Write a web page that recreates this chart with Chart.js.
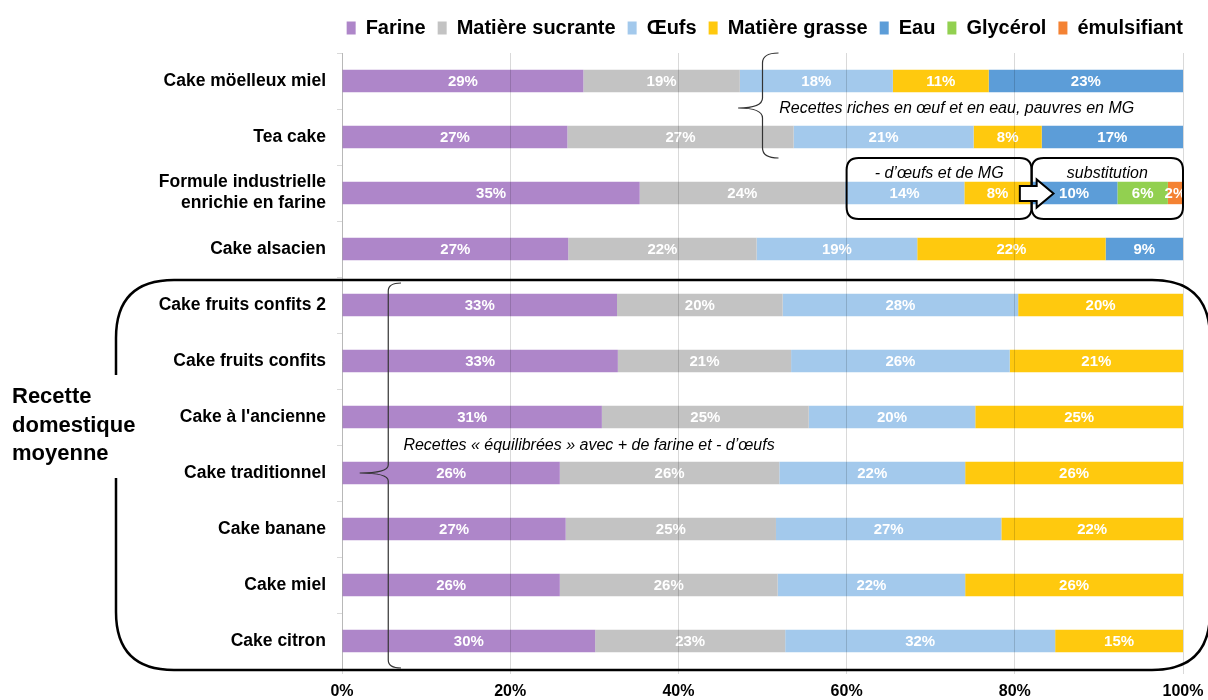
<!DOCTYPE html>
<html>
<head>
<meta charset="utf-8">
<script src="https://cdn.jsdelivr.net/npm/chart.js@4"></script>
<style>
  html, body { margin: 0; padding: 0; background: #fff; }
  #wrap { width: 1208px; height: 700px; }
</style>
</head>
<body>
<div id="wrap"><canvas id="cakeChart"></canvas></div>
<script>
const categories = [
  'Cake möelleux miel',
  'Tea cake',
  ['Formule industrielle', 'enrichie en farine'],
  'Cake alsacien',
  'Cake fruits confits 2',
  'Cake fruits confits',
  "Cake à l'ancienne",
  'Cake traditionnel',
  'Cake banane',
  'Cake miel',
  'Cake citron'
];

const farine        = [28.7, 26.8, 35.4, 26.9, 32.7, 32.8, 30.9, 25.9, 26.6, 25.9, 30.1];
const matSucrante   = [18.6, 26.9, 24.4, 22.4, 19.7, 20.6, 24.6, 26.1, 25.0, 25.9, 22.6];
const oeufs         = [18.2, 21.4, 14.2, 19.1, 28.0, 26.0, 19.8, 22.1, 26.8, 22.3, 32.1];
const matGrasse     = [11.4,  8.1,  7.9, 22.4, 19.6, 20.6, 24.7, 25.9, 21.6, 25.9, 15.2];
const eau           = [23.1, 16.8, 10.3,  9.2, null, null, null, null, null, null, null];
const glycerol      = [null, null,  6.0, null, null, null, null, null, null, null, null];
const emulsifiant   = [null, null,  1.8, null, null, null, null, null, null, null, null];

const xTicks = [0, 20, 40, 60, 80, 100];

const FONT = "'Liberation Sans', Arial, sans-serif";

// fixed legend height, and legend pushed to the right edge of the plot
const legendFit = {
  id: 'legendFit',
  beforeInit(chart) {
    const fit = chart.legend.fit;
    chart.legend.fit = function () {
      fit.bind(chart.legend)();
      this.height = 47;
    };
  },
  beforeDraw(chart) {
    chart.legend.left += 12;
    chart.legend.right += 12;
  },
  afterDraw(chart) {
    chart.legend.left -= 12;
    chart.legend.right -= 12;
  }
};

// white percentage labels in the middle of each segment
const segmentLabels = {
  id: 'segmentLabels',
  afterDatasetsDraw(chart) {
    const ctx = chart.ctx;
    ctx.save();
    ctx.font = 'bold 15px ' + FONT;
    ctx.fillStyle = '#fff';
    ctx.textAlign = 'center';
    ctx.textBaseline = 'middle';
    chart.data.datasets.forEach((ds, i) => {
      chart.getDatasetMeta(i).data.forEach((bar, j) => {
        const v = ds.data[j];
        if (v == null) return;
        ctx.fillText(Math.round(v) + '%', (bar.x + bar.base) / 2, bar.y + 1);
      });
    });
    ctx.restore();
  }
};

function roundRect(ctx, x0, y0, x1, y1, r) {
  ctx.beginPath();
  ctx.moveTo(x0 + r, y0);
  ctx.lineTo(x1 - r, y0);
  ctx.quadraticCurveTo(x1, y0, x1, y0 + r);
  ctx.lineTo(x1, y1 - r);
  ctx.quadraticCurveTo(x1, y1, x1 - r, y1);
  ctx.lineTo(x0 + r, y1);
  ctx.quadraticCurveTo(x0, y1, x0, y1 - r);
  ctx.lineTo(x0, y0 + r);
  ctx.quadraticCurveTo(x0, y0, x0 + r, y0);
  ctx.closePath();
}

// curly brace opening to the right, tip pointing left
function brace(ctx, x, top, bottom, tipY, tipX, c) {
  ctx.beginPath();
  ctx.moveTo(x + c * 1.6, top);
  ctx.quadraticCurveTo(x, top, x, top + c);
  ctx.lineTo(x, tipY - c);
  ctx.quadraticCurveTo(x, tipY, tipX, tipY);
  ctx.quadraticCurveTo(x, tipY, x, tipY + c);
  ctx.lineTo(x, bottom - c);
  ctx.quadraticCurveTo(x, bottom, x + c * 1.6, bottom);
  ctx.stroke();
}

const annotations = {
  id: 'annotations',
  afterDraw(chart) {
    const ctx = chart.ctx;
    const xs = chart.scales.x, ys = chart.scales.y;
    const px = v => xs.getPixelForValue(v);
    const py = i => ys.getPixelForValue(i);
    ctx.save();

    // group 1: eggs & water rich recipes
    ctx.strokeStyle = '#333';
    ctx.lineWidth = 1.2;
    brace(ctx, px(50), py(0) - 28, py(1) + 21, py(0.5) - 1, px(47.1), 10);
    ctx.fillStyle = '#000';
    ctx.font = 'italic 16px ' + FONT;
    ctx.textAlign = 'left';
    ctx.textBaseline = 'alphabetic';
    ctx.fillText('Recettes riches en œuf et en eau, pauvres en MG', px(52), py(0.5) + 4);

    // industrial formula boxes
    ctx.strokeStyle = '#000';
    ctx.lineWidth = 2;
    roundRect(ctx, px(60), py(2) - 35, px(82), py(2) + 26, 12);
    ctx.stroke();
    roundRect(ctx, px(82), py(2) - 35, px(100), py(2) + 26, 12);
    ctx.stroke();
    ctx.textAlign = 'center';
    ctx.fillText('- d’œufs et de MG', px(71), py(2) - 15);
    ctx.fillText('substitution', px(91), py(2) - 15);

    // block arrow
    const ay = py(2) + 0.5, a0 = px(80.6), a1 = px(82.6), a2 = px(84.6);
    ctx.beginPath();
    ctx.moveTo(a0, ay - 7.5);
    ctx.lineTo(a1, ay - 7.5);
    ctx.lineTo(a1, ay - 14);
    ctx.lineTo(a2, ay);
    ctx.lineTo(a1, ay + 14);
    ctx.lineTo(a1, ay + 7.5);
    ctx.lineTo(a0, ay + 7.5);
    ctx.closePath();
    ctx.fillStyle = '#fff';
    ctx.fill();
    ctx.stroke();

    // domestic recipes frame
    ctx.lineWidth = 2.5;
    roundRect(ctx, 116, py(3.5) + 3, 1210, py(10.5) + 1, 58);
    ctx.stroke();
    ctx.fillStyle = '#fff';
    ctx.fillRect(100, py(7) - 98, 40, 103);
    ctx.fillStyle = '#000';
    ctx.font = 'bold 22px ' + FONT;
    ctx.textAlign = 'left';
    ctx.fillText('Recette', 12, py(7) - 70);
    ctx.fillText('domestique', 12, py(7) - 41);
    ctx.fillText('moyenne', 12, py(7) - 13);

    // group 2: balanced recipes
    ctx.strokeStyle = '#333';
    ctx.lineWidth = 1.2;
    brace(ctx, px(5.5), py(3.5) + 6, py(10.5) - 1, py(7), px(2.1), 8);
    ctx.fillStyle = '#000';
    ctx.font = 'italic 16px ' + FONT;
    ctx.fillText('Recettes « équilibrées » avec + de farine et - d’œufs', px(7.3), py(6.5) + 5);

    ctx.restore();
  }
};

function ds(label, data, color) {
  return { label, data, backgroundColor: color, borderWidth: 0, stack: 'mix' };
}

new Chart(document.getElementById('cakeChart'), {
  type: 'bar',
  data: {
    labels: categories,
    datasets: [
      ds('Farine', farine, '#AE86C9'),
      ds('Matière sucrante', matSucrante, '#C3C3C3'),
      ds('Œufs', oeufs, '#A3C9EC'),
      ds('Matière grasse', matGrasse, '#FFC90E'),
      ds('Eau', eau, '#5C9DD8'),
      ds('Glycérol', glycerol, '#92D050'),
      ds('émulsifiant', emulsifiant, '#F48233')
    ]
  },
  options: {
    indexAxis: 'y',
    responsive: true,
    maintainAspectRatio: false,
    animation: false,
    barPercentage: 0.4,
    categoryPercentage: 1,
    layout: { padding: { left: 0, right: 25, top: 6, bottom: 0 } },
    plugins: {
      tooltip: { enabled: false },
      legend: {
        position: 'top',
        align: 'end',
        labels: {
          font: { family: FONT, size: 20, weight: 'bold' },
          color: '#000',
          boxWidth: 9,
          boxHeight: 13,
          padding: 12
        }
      }
    },
    scales: {
      x: {
        stacked: true,
        min: 0,
        max: 100,
        afterBuildTicks: scale => { scale.ticks = xTicks.map(v => ({ value: v })); },
        afterFit: scale => {
          scale.height = 31;
          scale.paddingLeft = 0;
          scale.paddingRight = 0;
        },
        ticks: {
          callback: v => v + '%',
          font: { family: FONT, size: 16, weight: 'bold' },
          color: '#000',
          padding: 8,
          maxRotation: 0
        },
        grid: { color: 'rgba(0,0,0,0.15)', tickLength: 5, z: 1 },
        border: { display: false }
      },
      y: {
        stacked: true,
        afterFit: scale => { scale.width = 342; },
        ticks: {
          font: { family: FONT, size: 17.5, weight: 'bold' },
          color: '#000',
          padding: 11
        },
        grid: { drawOnChartArea: false, tickLength: 5, color: '#d9d9d9' },
        border: { color: '#d9d9d9' }
      }
    }
  },
  plugins: [legendFit, segmentLabels, annotations]
});
</script>
</body>
</html>
